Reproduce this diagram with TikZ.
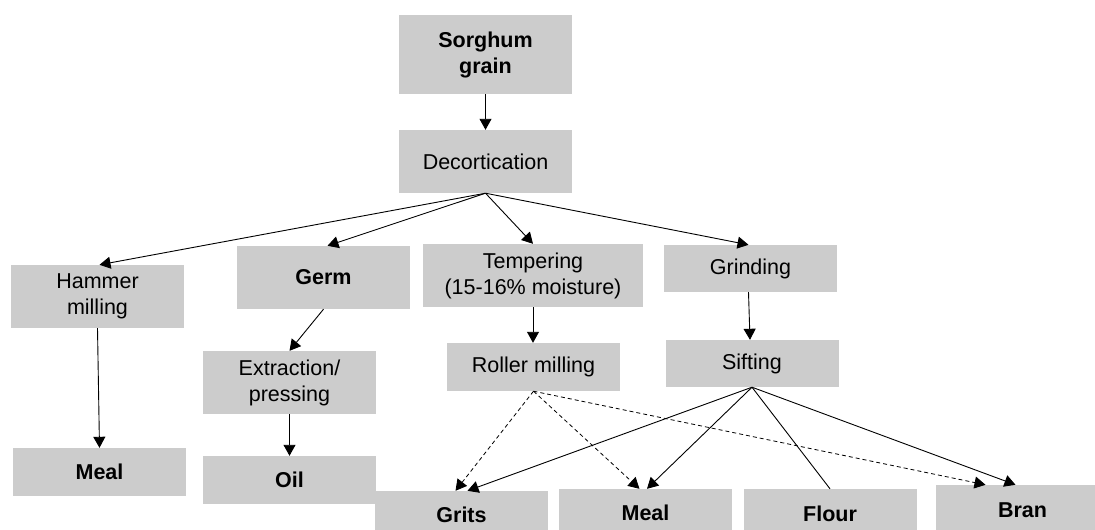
\documentclass[tikz,border=0pt]{standalone}
\usepackage{fontspec}
\setmainfont{Liberation Sans}
\usetikzlibrary{arrows.meta}
\definecolor{boxgray}{RGB}{204,204,204}
\tikzset{
  box/.style={fill=boxgray, draw=none, inner sep=0pt, align=center,
    minimum width=173pt, minimum height=#1,
    font=\fontsize{21.5}{26}\selectfont},
  box/.default=63pt,
  flow/.style={draw=black, line width=0.9pt,
    -{Triangle[length=11pt,width=12pt]}},
  dflow/.style={flow, line width=0.8pt, dash pattern=on 4pt off 3pt},
  plain/.style={draw=black, line width=0.9pt}
}
\begin{document}
\begin{tikzpicture}[x=1pt,y=-1pt]
\useasboundingbox (0,0) rectangle (1095,530);

% processing steps
\node[box=79pt]  (sorghum) at (485.5,54.5) {\bfseries Sorghum\\\bfseries grain};
\node[box]       (dec)     at (485.5,161.5) {Decortication};
\node[box]       (hammer)  at (97.5,296.5) {Hammer\\milling};
\node[box]       (germ)    at (323.5,277.5) {\bfseries Germ};
\node[box, minimum width=220pt] (temper) at (533,275.5) {Tempering\\(15-16\% moisture)};
\node[box=47pt]  (grind)   at (750.5,268.5) {Grinding};
\node[box]       (extract) at (289.5,382.5) {Extraction/\\pressing};
\node[box=48pt]  (roller)  at (533.5,367) {Roller milling};
\node[box=47pt]  (sift)    at (752,363.5) {Sifting};

% products
\node[box=48pt]  (meala)   at (99.5,472) {\bfseries Meal};
\node[box=48pt]  (oil)     at (289.5,480) {\bfseries Oil};
\node[box=48pt]  (grits)   at (461.5,515) {\bfseries Grits};
\node[box=48pt]  (mealb)   at (645.5,513) {\bfseries Meal};
\node[box=50pt]  (flour)   at (830,514) {\bfseries Flour};
\node[box=50pt]  (bran)    at (1022.5,510) {\bfseries Bran};

% main flow
\draw[flow] (sorghum.south) -- (dec.north);
\draw[flow] (dec.south) -- ([xshift=2pt]hammer.north);
\draw[flow] (dec.south) -- ([xshift=4pt]germ.north);
\draw[flow] (dec.south) -- (temper.north);
\draw[flow] (dec.south) -- ([xshift=-2pt]grind.north);
\draw[flow] (hammer.south) -- (meala.north);
\draw[flow] (germ.south) -- (extract.north);
\draw[flow] (extract.south) -- (oil.north);
\draw[flow] (temper.south) -- ([xshift=-0.5pt]roller.north);
\draw[flow] ([xshift=-2pt]grind.south) -- ([xshift=-2pt]sift.north);

% roller milling fractions
\draw[dflow] (roller.south) -- ([xshift=-6pt]grits.north);
\draw[dflow] (roller.south) -- ([xshift=-6pt]mealb.north);
\draw[dflow] (roller.south) -- ([xshift=-37pt]bran.north);

% sifting fractions
\draw[flow]  (sift.south) -- ([xshift=6pt]grits.north);
\draw[flow]  (sift.south) -- ([xshift=1.5pt]mealb.north);
\draw[plain] (sift.south) -- (flour.north);
\draw[flow]  (sift.south) -- ([xshift=-7pt]bran.north);
\end{tikzpicture}
\end{document}
